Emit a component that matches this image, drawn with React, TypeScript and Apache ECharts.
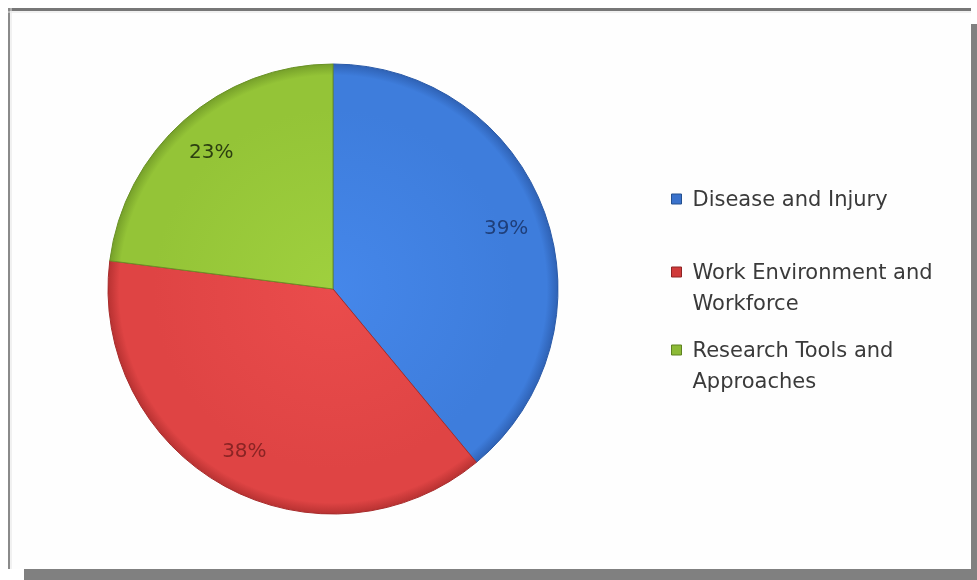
import React, { useEffect, useRef } from 'react';
import * as echarts from 'echarts';

const categories = ['Disease and Injury', 'Work Environment and Workforce', 'Research Tools and Approaches'];
const legendLabels = ['Disease and Injury', ' \nWork Environment and\nWorkforce', ' \nResearch Tools and\nApproaches'];
const shares = [39, 38, 23];

const baseColors = ['#4587ea', '#ea4c4c', '#9fd03e'];
const midColors = ['#3e7ddc', '#df4444', '#94c437'];
const edgeColors = ['#2f62b5', '#b83232', '#76a02a'];
const borderColors = ['#2a5aa8', '#a82c2c', '#6a9226'];
const labelColors = ['#1f3f7a', '#8a2424', '#2c3f10'];
const legendIconColors = ['#3a72cc', '#d03a3a', '#8cba36'];
const legendIconBorders = ['#24508f', '#8e2424', '#5e8220'];

const CX = 333;
const CY = 289;
const R = 225;

export default function App() {
  const ref = useRef<HTMLDivElement>(null);
  useEffect(() => {
    if (!ref.current) return;
    const chart = echarts.init(ref.current, undefined, { renderer: 'svg' });
    const legendTops = [183.5, 225.5, 303.5];
    const option: any = {
      animation: false,
      backgroundColor: 'transparent',
      graphic: [
        { type: 'rect', z: 0, shape: { x: 24, y: 24, width: 953, height: 556 }, style: { fill: '#808080' }, silent: true },
        { type: 'rect', z: 1, shape: { x: 8, y: 8, width: 963, height: 561 }, style: { fill: '#fefefe' }, silent: true },
        { type: 'line', z: 2, shape: { x1: 8, y1: 9.5, x2: 971, y2: 9.5 }, style: { stroke: '#777777', lineWidth: 3 }, silent: true },
        { type: 'line', z: 2, shape: { x1: 9, y1: 8, x2: 9, y2: 569 }, style: { stroke: '#8a8a8a', lineWidth: 2 }, silent: true },
        { type: 'line', z: 2, shape: { x1: 8, y1: 12, x2: 971, y2: 12 }, style: { stroke: '#e4e4e4', lineWidth: 1 }, silent: true },
        { type: 'line', z: 2, shape: { x1: 11, y1: 8, x2: 11, y2: 569 }, style: { stroke: '#e4e4e4', lineWidth: 1 }, silent: true },
      ],
      legend: categories.map((name, i) => ({
        data: [{ name, itemStyle: { color: legendIconColors[i], borderColor: legendIconBorders[i], borderWidth: 1 } }],
        left: 671,
        top: legendTops[i],
        orient: 'vertical',
        padding: 0,
        itemWidth: 10,
        itemHeight: 10,
        icon: 'rect',
        selectedMode: false,
        formatter: () => legendLabels[i],
        textStyle: {
          fontFamily: 'DejaVu Sans',
          fontSize: 21,
          color: '#3a3a3a',
          lineHeight: 31,
          padding: [0, 0, 0, 6],
        },
      })),
      series: [
        {
          type: 'pie',
          center: [CX, CY],
          radius: [0, R],
          startAngle: 90,
          clockwise: true,
          silent: true,
          label: { show: false },
          labelLine: { show: false },
          data: categories.map((name, i) => ({
            name,
            value: shares[i],
            itemStyle: {
              color: {
                type: 'radial', x: CX, y: CY, r: R, global: true,
                colorStops: [
                  { offset: 0, color: baseColors[i] },
                  { offset: 0.8, color: midColors[i] },
                  { offset: 0.95, color: midColors[i] },
                  { offset: 1, color: edgeColors[i] },
                ],
              },
              borderColor: borderColors[i],
              borderWidth: 1,
            },
          })),
        },
        {
          type: 'pie',
          center: [CX, CY],
          radius: [137, R],
          startAngle: 90,
          clockwise: true,
          silent: true,
          labelLine: { show: false },
          data: categories.map((name, i) => ({
            name,
            value: shares[i],
            itemStyle: { color: 'rgba(0,0,0,0)', borderWidth: 0 },
            label: {
              show: true,
              position: 'inside',
              formatter: '{c}%',
              fontFamily: 'DejaVu Sans',
              fontSize: 20,
              color: labelColors[i],
            },
          })),
        },
      ],
    };
    chart.setOption(option);
    return () => chart.dispose();
  }, []);
  return <div ref={ref} style={{ position: 'fixed', left: 0, top: 0, width: 977, height: 580 }} />;
}
